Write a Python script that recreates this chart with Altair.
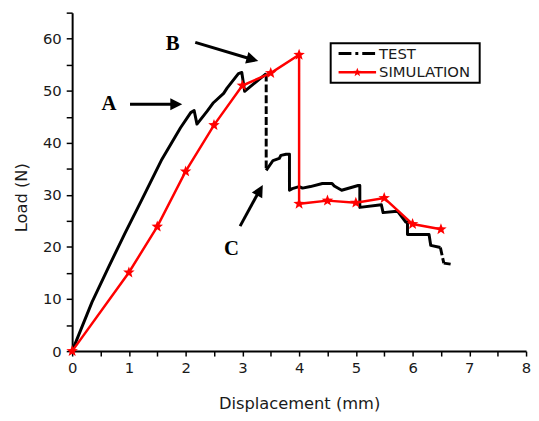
import math
import altair as alt
import pandas as pd

# ---------------- data ----------------
test_x = [0.0, 0.35, 0.64, 0.93, 1.22, 1.57, 1.91, 2.09, 2.15, 2.20, 2.38, 2.49, 2.67, 2.73,
          2.93, 2.99, 3.04, 3.42,
          3.42, 3.54, 3.65, 3.68, 3.77, 3.83, 3.83, 3.88, 4.00, 4.06, 4.20, 4.41, 4.58, 4.62, 4.75,
          5.04, 5.07, 5.07, 5.45, 5.48, 5.68, 5.74, 5.88, 5.91, 5.91, 6.29, 6.32, 6.49,
          6.55, 6.67]
test_y = [0.0, 9.4, 16.1, 22.6, 28.9, 36.6, 42.9, 45.8, 46.2, 43.6, 46.1, 47.7, 49.5, 50.5,
          53.3, 53.5, 49.9, 53.3,
          34.7, 36.6, 37.0, 37.6, 37.8, 37.8, 30.9, 31.2, 31.6, 31.3, 31.6, 32.2, 32.2, 31.7, 30.9,
          31.8, 31.8, 27.6, 28.1, 26.6, 26.8, 26.8, 24.8, 24.8, 22.4, 22.4, 20.3, 19.9,
          16.9, 16.7]
# segments (index i -> i+1) of the TEST curve drawn dashed
test_dashed_after = [17, 45]

sim_x = [0.0, 1.0, 1.5, 2.0, 2.5, 3.0, 3.5, 4.0, 4.0, 4.5, 5.0, 5.5, 6.0, 6.5]
sim_y = [0.0, 15.1, 23.9, 34.5, 43.4, 51.0, 53.4, 56.9, 28.3, 28.9, 28.5, 29.4, 24.4, 23.4]

note_text = ["A", "B", "C"]
note_x = [0.65, 1.77, 2.81]
note_y = [47.5, 59.0, 19.6]

arrow_x0 = [1.02, 2.17, 2.96]
arrow_y0 = [47.4, 59.3, 24.0]
arrow_xs = [1.80, 3.15, 3.29]      # where the shaft ends (head starts)
arrow_ys = [47.4, 56.1, 30.6]
arrow_x1 = [1.94, 3.28, 3.36]      # arrow tip
arrow_y1 = [47.4, 55.7, 31.9]
arrow_angle = [90, 106, 29]

legend_labels = ["TEST", "SIMULATION"]

x_ticks = [i * 0.5 for i in range(17)]
y_ticks = [i * 5 for i in range(14)]

# ---------------- tables ----------------
rows = []
piece = 0
for i, (xv, yv) in enumerate(zip(test_x, test_y)):
    if i > 0 and (i - 1) in test_dashed_after:
        piece += 1
    rows.append({"x": xv, "y": yv, "piece": piece, "i": i})
test_df = pd.DataFrame(rows)
dash_df = pd.DataFrame([{"x": test_x[i], "y": test_y[i], "x2": test_x[i + 1], "y2": test_y[i + 1]}
                        for i in test_dashed_after])
sim_df = pd.DataFrame({"x": sim_x, "y": sim_y, "i": list(range(len(sim_x)))})
note_df = pd.DataFrame({"x": note_x, "y": note_y, "t": note_text})
arrow_df = pd.DataFrame({"x": arrow_x0, "y": arrow_y0, "xs": arrow_xs, "ys": arrow_ys})
head_df = pd.DataFrame({"x": arrow_x1, "y": arrow_y1, "a": arrow_angle})
one = pd.DataFrame({"k": [0]})

# ---------------- shapes ----------------
pts = []
for k in range(10):
    r = 1.0 if k % 2 == 0 else 0.42
    a = math.radians(-90 + 36 * k)
    pts.append(f"{r * math.cos(a):.3f},{r * math.sin(a):.3f}")
STAR = "M" + "L".join(pts) + "Z"
HEAD = "M0,0L0.9,1.8L-0.9,1.8Z"

RED = "#ff0000"
FONT = "DejaVu Sans"
TXT = "#1a1a1a"

xs = alt.Scale(domain=[0, 8], nice=False, zero=False)
ys = alt.Scale(domain=[0, 65], nice=False, zero=False)

x_axis = alt.Axis(
    title="Displacement (mm)", values=x_ticks,
    labelExpr="datum.value % 1 === 0 ? format(datum.value, 'd') : ''",
    grid=False, domainColor="black", domainWidth=2, tickColor="black", tickWidth=1.5,
    tickSize=5,
    labelFont=FONT, labelFontSize=15, labelColor=TXT, labelPadding=5, labelOverlap=False,
    labelFlush=False,
    titleFont=FONT, titleFontSize=16.5, titleFontWeight="normal", titleColor=TXT, titlePadding=20,
)
y_axis = alt.Axis(
    title="Load (N)", values=y_ticks,
    labelExpr="datum.value % 10 === 0 ? format(datum.value, 'd') : ''",
    grid=False, domainColor="black", domainWidth=2, tickColor="black", tickWidth=1.5,
    tickSize=6,
    labelFont=FONT, labelFontSize=15, labelColor=TXT, labelPadding=5, labelOverlap=False,
    labelFlush=False,
    titleFont=FONT, titleFontSize=16.5, titleFontWeight="normal", titleColor=TXT, titlePadding=13,
    titleY=187,
)


def X(f="x"):
    return alt.X(f"{f}:Q", scale=xs, axis=x_axis)


def Y(f="y"):
    return alt.Y(f"{f}:Q", scale=ys, axis=y_axis)


test_line = alt.Chart(test_df).mark_line(color="black", strokeWidth=3, strokeJoin="round").encode(
    x=X(), y=Y(), detail="piece:N", order="i:Q",
)
test_dash = alt.Chart(dash_df).mark_rule(color="black", strokeWidth=3, strokeDash=[8, 3]).encode(
    x=X(), y=Y(), x2="x2:Q", y2="y2:Q",
)
sim_line = alt.Chart(sim_df).mark_line(color=RED, strokeWidth=2.5).encode(
    x=X(), y=Y(), order="i:Q",
)
sim_pts = alt.Chart(sim_df).mark_point(shape=STAR, filled=True, color=RED, size=150, opacity=1).encode(
    x=X(), y=Y(),
)
shafts = alt.Chart(arrow_df).mark_rule(color="black", strokeWidth=3).encode(
    x=X(), y=Y(), x2="xs:Q", y2="ys:Q",
)
heads = alt.Chart(head_df).mark_point(shape=HEAD, filled=True, color="black", size=180, opacity=1).encode(
    x=X(), y=Y(), angle=alt.Angle("a:Q", scale=None),
)
notes = alt.Chart(note_df).mark_text(font="Liberation Serif", fontWeight="bold", fontSize=21,
                                     color="black").encode(
    x=X(), y=Y(), text="t:N",
)

# legend (pixel positions inside plot area)
leg_box = alt.Chart(one).mark_rect(fill="white", stroke="black", strokeWidth=2).encode(
    x=alt.value(262), x2=alt.value(413), y=alt.value(31), y2=alt.value(71),
)
leg_test = alt.Chart(one).mark_rule(color="black", strokeWidth=3, strokeDash=[13, 4, 3, 4]).encode(
    x=alt.value(270), x2=alt.value(308), y=alt.value(41.5),
)
leg_sim = alt.Chart(one).mark_rule(color=RED, strokeWidth=2.5).encode(
    x=alt.value(270), x2=alt.value(308), y=alt.value(60.5),
)
leg_star = alt.Chart(one).mark_point(shape=STAR, filled=True, color=RED, size=90, opacity=1).encode(
    x=alt.value(289), y=alt.value(60.5),
)
leg_txt1 = alt.Chart(one).mark_text(font=FONT, fontSize=15, color=TXT, align="left",
                                    baseline="middle").encode(
    x=alt.value(311), y=alt.value(41.5), text=alt.value(legend_labels[0]),
)
leg_txt2 = alt.Chart(one).mark_text(font=FONT, fontSize=15, color=TXT, align="left",
                                    baseline="middle").encode(
    x=alt.value(311), y=alt.value(60.5), text=alt.value(legend_labels[1]),
)

chart = alt.layer(
    test_line, test_dash, sim_line, sim_pts, shafts, heads, notes,
    leg_box, leg_test, leg_sim, leg_star, leg_txt1, leg_txt2,
).properties(
    width=460, height=343,
    autosize=alt.AutoSizeParams(type="none"),
    padding={"left": 65, "top": 2, "right": 5, "bottom": 60},
).configure_view(stroke=None)

chart.save("out.html", embed_options={"renderer": "svg", "actions": False})
